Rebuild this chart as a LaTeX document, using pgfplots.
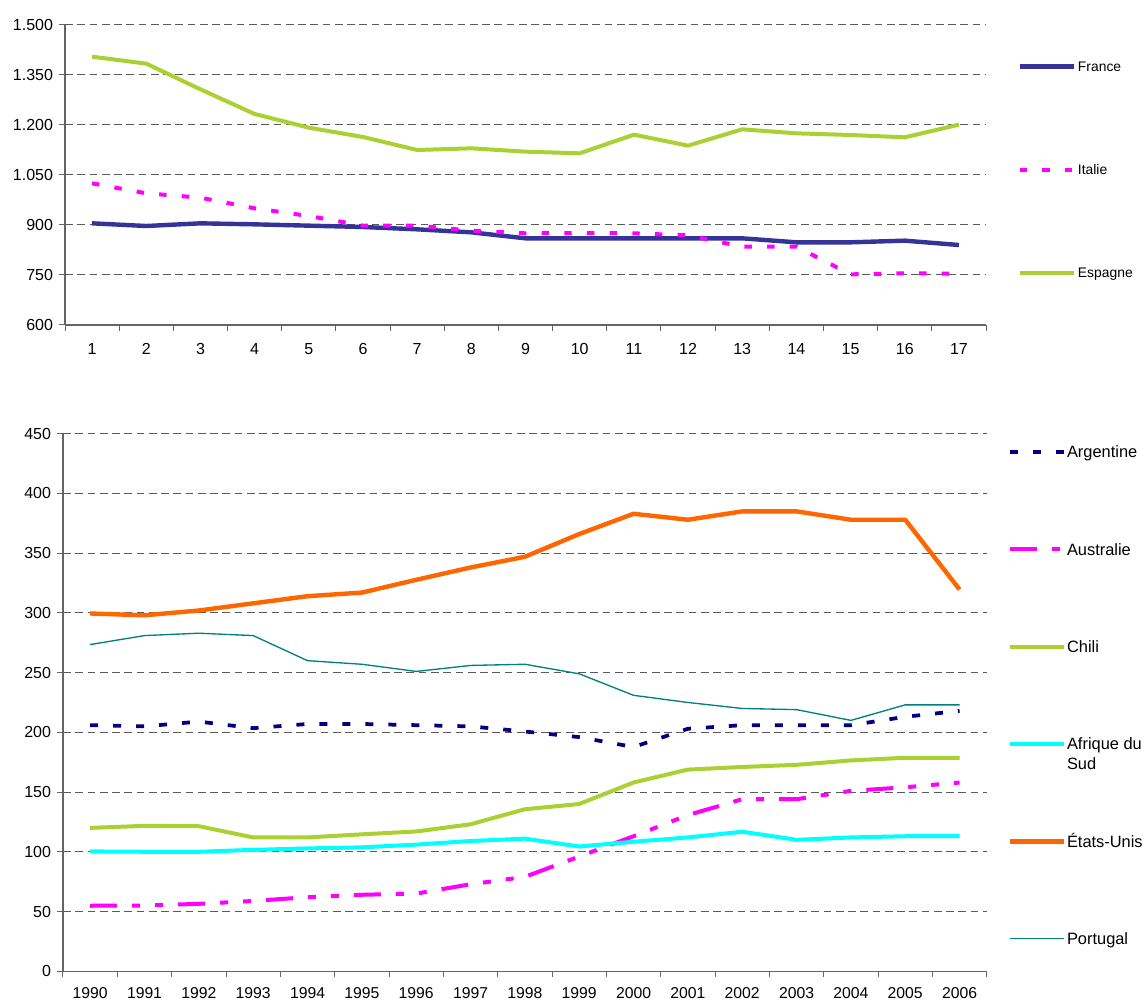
\documentclass[border=0pt]{standalone}
\usepackage{fontspec}
\setmainfont{Liberation Sans}
\usepackage{pgfplots}
\pgfplotsset{compat=1.18}
\definecolor{fr}{RGB}{51,51,153}
\definecolor{es}{RGB}{170,208,50}
\definecolor{mag}{RGB}{255,0,255}
\definecolor{navyc}{RGB}{0,0,128}
\definecolor{usor}{RGB}{255,102,0}
\definecolor{cy}{RGB}{0,255,255}
\definecolor{tealc}{RGB}{0,128,128}
\definecolor{gridc}{RGB}{90,90,90}
\definecolor{axc}{RGB}{100,100,100}

\pgfplotsset{
  common/.style={
    scale only axis,
    anchor=south west,
    axis x line*=bottom,
    axis y line*=left,
    axis line style={axc, line width=0.9pt, -},
    tick align=outside,
    major tick length=4.5pt,
    tick style={axc, line width=0.75pt},
    ymajorgrids,
    major grid style={gridc, line width=0.75pt, dash pattern=on 5.8pt off 3.4pt},
    /pgf/number format/assume math mode=true,
    tick label style={font=\fontsize{12}{14}\selectfont},
    yticklabel style={xshift=-1pt},
    legend cell align=left,
    clip=false,
  }
}

\begin{document}
\begin{tikzpicture}
\path[use as bounding box] (0,0) rectangle (861pt,750.75pt);

% ---------------- top panel ----------------
\begin{axis}[common,
  at={(48.75pt,507pt)}, width=690.75pt, height=225pt,
  xmin=0.5, xmax=17.5, ymin=600, ymax=1500,
  xtick={0.5,1.5,...,17.5},
  xticklabels={1,2,3,4,5,6,7,8,9,10,11,12,13,14,15,16,17,{}},
  xticklabel style={xshift=20.33pt, yshift=-5.5pt},
  ytick={600,750,...,1500},
  yticklabel style={/pgf/number format/1000 sep={.}},
  legend image code/.code={\draw[#1] (0pt,0pt) -- (41pt,0pt);},
  legend style={draw=none, fill=none, inner sep=0pt, outer sep=0pt,
    at={(1.034,0.8777)}, anchor=north west,
    row sep=69.75pt, column sep=1.2pt,
    nodes={inner sep=0pt, text height=7.5pt, text depth=0pt, font=\fontsize{10.4}{12}\selectfont}},
]
\addplot[fr, line width=3.3pt, line join=round] coordinates {
(1,905) (2,897) (3,905) (4,902) (5,898) (6,894) (7,887) (8,878) (9,860)
(10,860) (11,860) (12,860) (13,860) (14,848) (15,848) (16,853) (17,840)};
\addlegendentry{France}
\addplot[mag, line width=3pt, dash pattern=on 5.6pt off 11.4pt] coordinates {
(1,1025) (2,995) (3,982) (4,950) (5,927) (6,898) (7,898) (8,883) (9,875)
(10,876) (11,875) (12,869) (13,835) (14,835) (15,752) (16,755) (17,754)};
\addlegendentry{Italie}
\addplot[es, line width=3pt, line join=round] coordinates {
(1,1405) (2,1384) (3,1307) (4,1233) (5,1192) (6,1164) (7,1125) (8,1130) (9,1120)
(10,1115) (11,1171) (12,1138) (13,1187) (14,1175) (15,1170) (16,1163) (17,1201)};
\addlegendentry{Espagne}
\end{axis}

% ---------------- bottom panel ----------------
\begin{axis}[common,
  at={(47.25pt,22.35pt)}, width=692.8pt, height=403.1pt,
  xmin=1989.5, xmax=2006.5, ymin=0, ymax=450,
  xtick={1989.5,1990.5,...,2006.5},
  xticklabels={1990,1991,1992,1993,1994,1995,1996,1997,1998,1999,2000,2001,2002,2003,2004,2005,2006,{}},
  xticklabel style={xshift=20.38pt, yshift=-4.3pt, font=\fontsize{11.8}{14}\selectfont},
  ytick={0,50,...,450},
  legend image code/.code={\draw[#1] (0pt,0pt) -- (40pt,0pt);},
  legend style={draw=none, fill=none, inner sep=0pt, outer sep=0pt,
    at={(1.023,0.977)}, anchor=north west,
    row sep=64.2pt, column sep=1pt,
    nodes={inner sep=0pt, text height=8.8pt, text depth=0pt, font=\fontsize{12.3}{14.5}\selectfont}},
]
\addplot[navyc, line width=2.8pt, dash pattern=on 6pt off 11.25pt] coordinates {
(1990,206) (1991,205) (1992,209) (1993,203.5) (1994,207) (1995,207) (1996,206)
(1997,205) (1998,200.7) (1999,196) (2000,187.7) (2001,203) (2002,206) (2003,206)
(2004,206) (2005,213) (2006,218)};
\addlegendentry{Argentine}
\addplot[mag, line width=3pt, dash pattern=on 20.25pt off 11.25pt on 6pt off 11.25pt on 6pt off 11.25pt] coordinates {
(1990,54.8) (1991,55) (1992,56.4) (1993,58.8) (1994,62) (1995,64) (1996,65)
(1997,72.8) (1998,79) (1999,96) (2000,113) (2001,130.7) (2002,144) (2003,144)
(2004,151) (2005,154) (2006,158)};
\addlegendentry{Australie}
\addplot[es, line width=3pt, line join=round] coordinates {
(1990,120) (1991,121.7) (1992,121.4) (1993,112) (1994,112) (1995,114.6) (1996,117)
(1997,123) (1998,135.6) (1999,140) (2000,158) (2001,168.8) (2002,171) (2003,172.8)
(2004,176.5) (2005,178.7) (2006,178.7)};
\addlegendentry{Chili}
\addplot[cy, line width=3pt, line join=round] coordinates {
(1990,100.3) (1991,100) (1992,100) (1993,101.6) (1994,102.8) (1995,103.7) (1996,106)
(1997,109) (1998,111) (1999,104.4) (2000,108.4) (2001,112) (2002,116.8) (2003,110)
(2004,112) (2005,113) (2006,113)};
\addlegendentry{\begin{tabular}[t]{@{}l@{}}Afrique du\\Sud\end{tabular}}
\addplot[usor, line width=3.3pt, line join=round] coordinates {
(1990,299.5) (1991,298) (1992,302) (1993,308) (1994,314) (1995,317) (1996,327.7)
(1997,338) (1998,347) (1999,366) (2000,383) (2001,378) (2002,385) (2003,385)
(2004,378) (2005,378) (2006,319.6)};
\addlegendentry{États-Unis}
\addplot[tealc, line width=1pt, line join=round] coordinates {
(1990,273.5) (1991,281) (1992,283) (1993,281) (1994,260) (1995,257) (1996,251)
(1997,256) (1998,257) (1999,249) (2000,231) (2001,225) (2002,220) (2003,219)
(2004,210) (2005,223) (2006,223)};
\addlegendentry{Portugal}
\end{axis}
\end{tikzpicture}
\end{document}
